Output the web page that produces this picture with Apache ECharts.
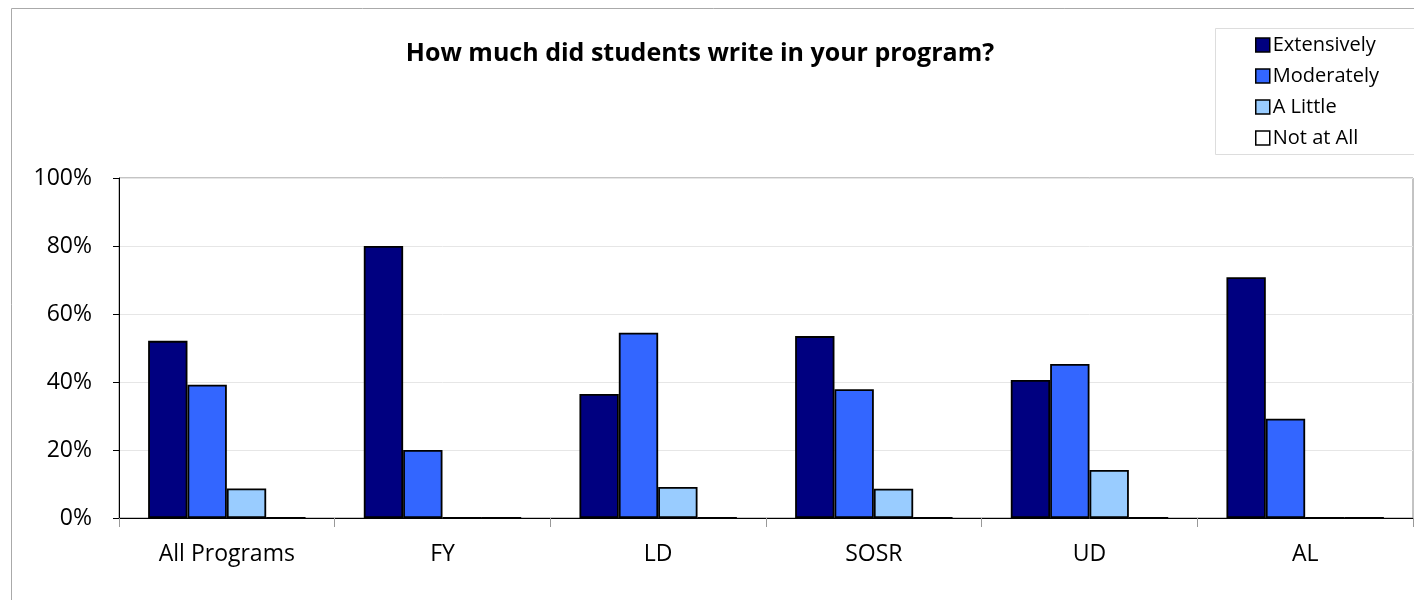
<!DOCTYPE html>
<html><head><meta charset="utf-8">
<script src="https://cdn.jsdelivr.net/npm/echarts@6/dist/echarts.min.js"></script>
<style>html,body{margin:0;padding:0;background:#fff}#c{width:1414px;height:600px}</style>
</head><body><div id="c"></div>
<script>
const categories = ['All Programs', 'FY', 'LD', 'SOSR', 'UD', 'AL'];
const seriesNames = ['Extensively', 'Moderately', 'A Little', 'Not at All'];
const extensively = [52.1, 80.0, 36.5, 53.5, 40.6, 70.8];
const moderately = [39.2, 20.0, 54.5, 37.9, 45.3, 29.2];
const aLittle = [8.7, 0, 9.1, 8.6, 14.1, 0];
const notAtAll = [0, 0, 0, 0, 0, 0];
const yTicks = [0, 20, 40, 60, 80, 100];
const colors = ['#000080', '#3366FF', '#99CCFF', '#FFFFFF'];
const values = [extensively, moderately, aLittle, notAtAll];
const FONT = 'Open Sans';

const chart = echarts.init(document.getElementById('c'));
chart.setOption({
  animation: false,
  textStyle: { fontFamily: FONT },
  title: {
    text: 'How much did students write in your program?',
    left: 695, textAlign: 'center', top: 36,
    textStyle: { fontFamily: FONT, fontSize: 25, fontWeight: 'bold', color: '#000' }
  },
  legend: {
    orient: 'vertical', left: 1250, top: 30,
    itemWidth: 14, itemHeight: 14, itemGap: 11,
    icon: 'rect',
    textStyle: { fontFamily: FONT, fontSize: 20, color: '#000', padding: [0, 0, 0, -2] },
    itemStyle: { borderColor: '#000', borderWidth: 1.5 },
    data: seriesNames
  },
  graphic: [
    { type: 'rect', shape: { x: 11.5, y: 8.5, width: 1500, height: 700 }, style: { fill: null, stroke: '#aaa', lineWidth: 1 }, z: -10 },
    { type: 'rect', shape: { x: 1215.5, y: 28.5, width: 300, height: 126 }, style: { fill: '#fff', stroke: '#ddd', lineWidth: 1 }, z: -5 }
  ],
  grid: { left: 119, right: 1, top: 178, bottom: 82, show: true, borderColor: '#888', borderWidth: 1, backgroundColor: 'transparent' },
  xAxis: {
    type: 'category', data: categories,
    axisLine: { lineStyle: { color: '#000', width: 1 } },
    axisTick: { show: true, length: 9, lineStyle: { color: '#999' } },
    axisLabel: { fontFamily: FONT, fontSize: 23, color: '#000', margin: 25 }
  },
  yAxis: {
    type: 'value', min: 0, max: 100, interval: 20,
    axisLine: { show: true, lineStyle: { color: '#000', width: 1 } },
    axisTick: { show: true, length: 6, lineStyle: { color: '#000' } },
    splitLine: { lineStyle: { color: '#e6e6e6', width: 1 } },
    axisLabel: { fontFamily: FONT, fontSize: 23, color: '#000', margin: 27,
      formatter: v => yTicks.includes(v) ? v + '%' : '' }
  },
  series: seriesNames.map((name, i) => ({
    name, type: 'bar', data: values[i],
    barGap: '0%', barCategoryGap: '27%',
    itemStyle: { color: colors[i], borderColor: '#000', borderWidth: 1.8 }
  }))
});
</script></body></html>
